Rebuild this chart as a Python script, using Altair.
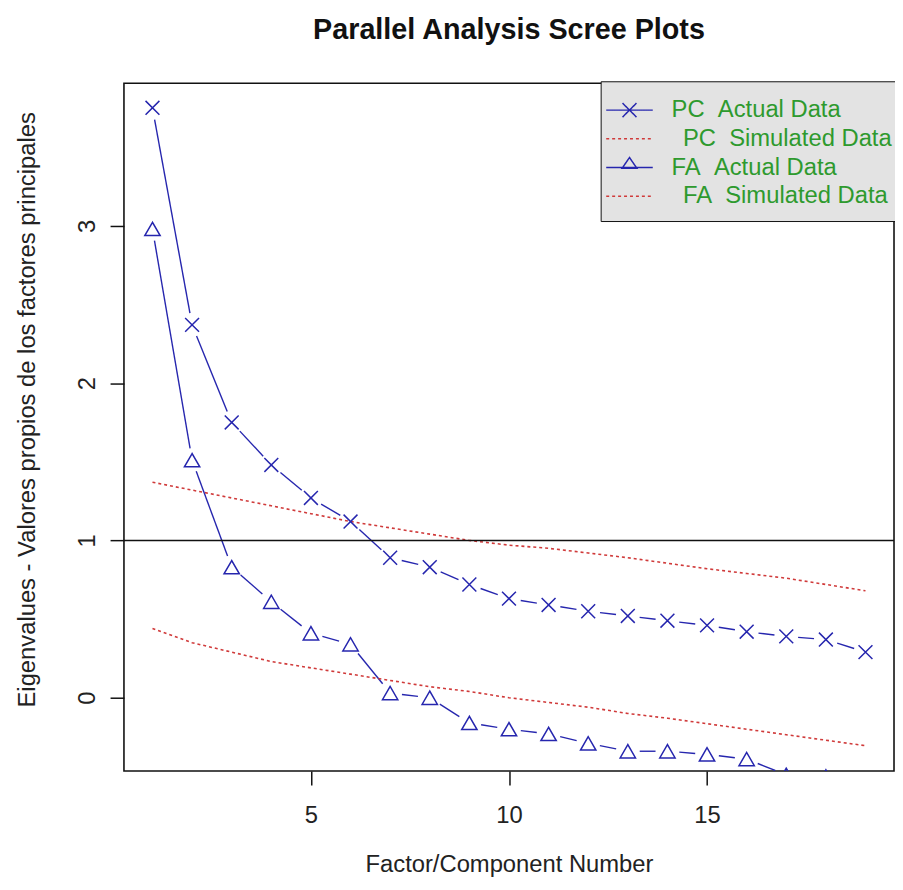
import altair as alt
import pandas as pd
import math

# ---- data ----
factors = list(range(1, 20))
pc_actual = [3.75, 2.37, 1.75, 1.48, 1.27, 1.12, 0.89, 0.83, 0.72, 0.63,
             0.59, 0.55, 0.52, 0.49, 0.46, 0.42, 0.39, 0.37, 0.29]
fa_actual = [2.98, 1.51, 0.83, 0.61, 0.41, 0.34, 0.03, 0.00, -0.16, -0.20,
             -0.23, -0.29, -0.34, -0.34, -0.36, -0.39, -0.49, -0.50, -0.60]
pc_sim = [1.37, 1.32, 1.27, 1.22, 1.17, 1.12, 1.08, 1.04, 1.00, 0.97,
          0.95, 0.92, 0.89, 0.855, 0.82, 0.79, 0.76, 0.72, 0.68]
fa_sim = [0.44, 0.35, 0.29, 0.23, 0.19, 0.15, 0.11, 0.07, 0.04, 0.00,
          -0.03, -0.06, -0.10, -0.13, -0.165, -0.20, -0.235, -0.27, -0.305]
ref_line = [1]
x_ticks = [5, 10, 15]
y_ticks = [0, 1, 2, 3]
series_names = ["PC\u00a0\u00a0Actual Data",
                "\u200b\u00a0\u2009PC\u00a0\u00a0Simulated Data",
                "FA\u00a0\u00a0Actual Data",
                "\u200b\u00a0\u2009FA\u00a0\u00a0Simulated Data"]

# ---- layout / style ----
W, H = 777, 694
X_DOM = [0.28, 19.72]
Y_DOM = [-0.466, 3.906]
BLUE = "#2626ae"
RED = "#d03a3a"
GREEN = "#2e9a2e"
FONT = "Liberation Sans"

xs = alt.Scale(domain=X_DOM, nice=False, zero=False)
ys = alt.Scale(domain=Y_DOM, nice=False, zero=False)
xaxis = alt.Axis(values=x_ticks, title="Factor/Component Number", grid=False, domain=False,
                 tickSize=14, tickWidth=1.5, tickColor="#111",
                 labelFontSize=24, labelFont=FONT, labelColor="#222",
                 labelBaseline="middle", labelPadding=31,
                 titleFontSize=24, titleFont=FONT, titleFontWeight="normal", titleColor="#222",
                 titleY=94, titleBaseline="middle")
yaxis = alt.Axis(values=y_ticks, title="Eigenvalues - Valores propios de los factores principales",
                 grid=False, domain=False,
                 tickSize=14, tickWidth=1.5, tickColor="#111",
                 labelFontSize=24, labelFont=FONT, labelColor="#222",
                 labelAngle=270, labelAlign="center", labelBaseline="middle", labelPadding=23,
                 titleFontSize=24, titleFont=FONT, titleFontWeight="normal", titleColor="#222",
                 titleX=-97, titleY=H / 2 - 18, titleAngle=270, titleAlign="center",
                 titleBaseline="middle")

# ---- type "b" line segments (gaps around the points) ----
kx = W / (X_DOM[1] - X_DOM[0])
ky = H / (Y_DOM[1] - Y_DOM[0])
GAP = 12.0
seg_rows = []
for name, vals in (("PC", pc_actual), ("FA", fa_actual)):
    for i in range(len(vals) - 1):
        xa, ya, xb, yb = factors[i], vals[i], factors[i + 1], vals[i + 1]
        L = math.hypot((xb - xa) * kx, (yb - ya) * ky)
        if L <= 2 * GAP:
            continue
        f = GAP / L
        seg_rows.append({"s": name,
                         "x1": xa + f * (xb - xa), "y1": ya + f * (yb - ya),
                         "x2": xb - f * (xb - xa), "y2": yb - f * (yb - ya)})
seg_df = pd.DataFrame(seg_rows)

pts_pc = pd.DataFrame({"f": factors, "v": pc_actual})
pts_fa = pd.DataFrame({"f": factors, "v": fa_actual})
sim_df = pd.DataFrame({"f": factors * 2, "v": pc_sim + fa_sim,
                       "s": ["PC"] * len(factors) + ["FA"] * len(factors)})
ref_df = pd.DataFrame({"v": ref_line})
leg_df = pd.DataFrame({"series": series_names})

def X(field):
    return alt.X(field, type="quantitative", scale=xs, axis=xaxis)

def Y(field):
    return alt.Y(field, type="quantitative", scale=ys, axis=yaxis)

hline = alt.Chart(ref_df).mark_rule(color="#111", strokeWidth=1.6).encode(y=Y("v"))

segs = alt.Chart(seg_df).mark_rule(color=BLUE, strokeWidth=1.4, clip=True).encode(
    x=X("x1"), y=Y("y1"), x2=alt.X2("x2"), y2=alt.Y2("y2"))

sims = alt.Chart(sim_df).mark_line(color=RED, strokeWidth=1.6, strokeDash=[3, 3], clip=True).encode(
    x=X("f"), y=Y("v"), detail="s:N")

x_shape = "M-1,-1L1,1M-1,1L1,-1"
pc_pts = alt.Chart(pts_pc).mark_point(shape=x_shape, size=196, filled=False, color=BLUE,
                                       strokeWidth=1.5, opacity=1, clip=True).encode(
    x=X("f"), y=Y("v"))
fa_pts = alt.Chart(pts_fa).mark_point(shape="triangle-up", size=240, filled=False, color=BLUE,
                                       strokeWidth=1.5, opacity=1, clip=True).encode(
    x=X("f"), y=Y("v"))

# legend (real Vega-Lite legend, its own symbols hidden outside the clipped view)
leg_paths = ["M-1.5,0L1.5,0M-0.45,-0.45L0.45,0.45M-0.45,0.45L0.45,-0.45",
             "M-1.5,0L1.5,0",
             "M-1.5,0L1.5,0M-0.48,0.05L0.48,0.05L0,-0.65Z",
             "M-1.5,0L1.5,0"]
legend = alt.Legend(title=None, orient="none", legendX=481, legendY=-2,
                    fillColor="#e3e3e3", strokeColor="#111", padding=12.6,
                    symbolSize=981, symbolStrokeWidth=1.5, symbolType="stroke",
                    labelFont=FONT, labelFontSize=24, labelColor=GREEN, labelOffset=26,
                    labelLimit=400, rowPadding=-2)
leg = alt.Chart(leg_df).mark_point(filled=False, size=981, strokeWidth=1.5, opacity=1,
                                   clip=True).encode(
    x=alt.value(-300), y=alt.value(-300),
    color=alt.Color("series:N", sort=series_names, legend=legend,
                    scale=alt.Scale(domain=series_names, range=[BLUE, RED, BLUE, RED])),
    shape=alt.Shape("series:N", sort=series_names, legend=legend,
                    scale=alt.Scale(domain=series_names, range=leg_paths)),
    strokeDash=alt.StrokeDash("series:N", sort=series_names, legend=legend,
                              scale=alt.Scale(domain=series_names,
                                              range=[[1, 0], [3, 3], [1, 0], [3, 3]])))

chart = alt.layer(segs, sims, hline, pc_pts, fa_pts, leg).properties(
    width=W, height=H,
    title=alt.TitleParams("Parallel Analysis Scree Plots", fontSize=29, fontWeight="bold",
                          font=FONT, anchor="middle", offset=36, color="#111"),
    padding={"left": 117, "top": 72, "right": 1, "bottom": 108},
    autosize=alt.AutoSizeParams(type="none"),
).configure(background="white",
            view=alt.ViewConfig(stroke="#111", strokeWidth=1.6))

chart.save("out.html", embed_options={"renderer": "svg", "actions": False})
